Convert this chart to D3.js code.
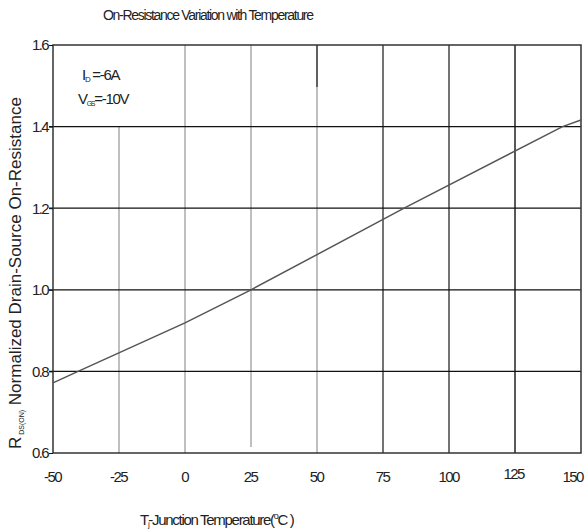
<!DOCTYPE html>
<html lang="en">
<head>
<meta charset="UTF-8">
<title>On-Resistance Variation with Temperature</title>
<script src="https://d3js.org/d3.v7.min.js"></script>
<style>
  body { margin: 0; background: #fff; }
  svg { display: block; }
  text { font-family: "Liberation Sans", sans-serif; fill: #222; }
</style>
</head>
<body>
<svg width="585" height="531"></svg>
<script>
// data
const temps = [-50, -40.5, 0, 25, 83, 143, 150];
const rdson = [0.772, 0.8, 0.919, 1.0, 1.2, 1.4, 1.416];
const xTicks = [-50, -25, 0, 25, 50, 75, 100, 125, 150];
const yTicks = [0.6, 0.8, 1.0, 1.2, 1.4, 1.6];

const svg = d3.select('svg');
const pLeft = 53, pRight = 581, pTop = 45, pBottom = 453;

const x = d3.scaleLinear().domain([-50, 150]).range([pLeft, pRight]);
const y = d3.scaleLinear().domain([0.6, 1.6]).range([pBottom, pTop]);

// vertical grid - mixed grey / black like the scan
function vColor(t) {
  if (t >= 125) return '#222';
  if (t >= 75) return '#444';
  return '#aaa';
}
svg.append('g').selectAll('line')
  .data(xTicks.filter(t => t > -50 && t < 150))
  .join('line')
  .attr('x1', d => x(d)).attr('x2', d => x(d))
  .attr('y1', d => d === -25 ? y(1.4) : pTop)
  .attr('y2', d => d === 25 ? pBottom - 6 : pBottom)
  .attr('stroke', vColor)
  .attr('stroke-width', 1.5);
// the dark top piece on the 50 line
svg.append('line')
  .attr('x1', x(50)).attr('x2', x(50))
  .attr('y1', pTop).attr('y2', pTop + 42)
  .attr('stroke', '#222').attr('stroke-width', 1.2);

// horizontal grid
svg.append('g').selectAll('line')
  .data(yTicks.filter(v => v > 0.6 && v < 1.6))
  .join('line')
  .attr('x1', pLeft - 4).attr('x2', pRight)
  .attr('y1', d => y(d)).attr('y2', d => y(d))
  .attr('stroke', '#111').attr('stroke-width', 1.2);

// frame
svg.append('rect')
  .attr('x', pLeft).attr('y', pTop)
  .attr('width', pRight - pLeft).attr('height', pBottom - pTop)
  .attr('fill', 'none').attr('stroke', '#333').attr('stroke-width', 1.5);

// tick labels
const yAxis = svg.append('g')
  .attr('transform', `translate(${pLeft},0)`)
  .call(d3.axisLeft(y).tickValues(yTicks).tickFormat(d3.format('.1f')).tickSize(4).tickPadding(1));
yAxis.select('.domain').remove();
yAxis.selectAll('line').attr('stroke', '#111');
yAxis.selectAll('text').attr('font-size', 15).attr('letter-spacing', -1.6)
  .attr('font-family', '"Liberation Sans", sans-serif').attr('fill', '#222');

const xAxis = svg.append('g')
  .attr('transform', `translate(0,${pBottom})`)
  .call(d3.axisBottom(x).tickValues(xTicks).tickFormat(d => String(d)).tickSize(0).tickPadding(18));
xAxis.select('.domain').remove();
xAxis.selectAll('text').attr('font-size', 15).attr('letter-spacing', -1.6)
  .attr('font-family', '"Liberation Sans", sans-serif').attr('fill', '#222')
  .attr('dx', d => d === 150 ? -9 : (d === 125 ? -2 : -1))
  .attr('dy', d => d === 125 ? '0.5em' : '0.71em');

// curve
const line = d3.line().x((d, i) => x(temps[i])).y(d => y(d));
svg.append('path')
  .datum(rdson)
  .attr('d', line)
  .attr('fill', 'none')
  .attr('stroke', '#555')
  .attr('stroke-width', 1.5);

// title
svg.append('text')
  .attr('x', 103).attr('y', 20)
  .attr('font-size', 14).attr('letter-spacing', -1.3)
  .text('On-Resistance Variation with Temperature');

// condition labels
const t1 = svg.append('text').attr('x', 82).attr('y', 80).attr('font-size', 15).attr('letter-spacing', -1.3);
t1.append('tspan').text('I');
t1.append('tspan').attr('font-size', 8).attr('dy', 2).text('D');
t1.append('tspan').attr('dy', -2).text('\u00a0=-6A');
const t2 = svg.append('text').attr('x', 78).attr('y', 104).attr('font-size', 15).attr('letter-spacing', -1.3);
t2.append('tspan').text('V');
t2.append('tspan').attr('font-size', 7).attr('dy', 2).text('GS');
t2.append('tspan').attr('dy', -2).text('=-10V');

// x title
const xt = svg.append('text').attr('x', 140).attr('y', 525).attr('font-size', 15).attr('letter-spacing', -1.3);
xt.append('tspan').text('T');
xt.append('tspan').attr('font-size', 8).attr('dy', 2).text('j');
xt.append('tspan').attr('dy', -2).text('-Junction Temperature(');
xt.append('tspan').attr('font-size', 9).attr('dy', -6).text('o');
xt.append('tspan').attr('dy', 6).text('C )');

// y title
const yt = svg.append('text')
  .attr('transform', 'translate(21,449) rotate(-90)')
  .attr('font-family', '"Open Sans", "DejaVu Sans", sans-serif')
  .attr('font-size', 17).attr('fill', '#333');
yt.append('tspan').text('R');
yt.append('tspan').attr('font-size', 7).attr('dy', 3).text('\u00a0DS(ON)');
yt.append('tspan').attr('dy', -3).text('\u00a0Normalized Drain-Source On-Resistance');
</script>
</body>
</html>
